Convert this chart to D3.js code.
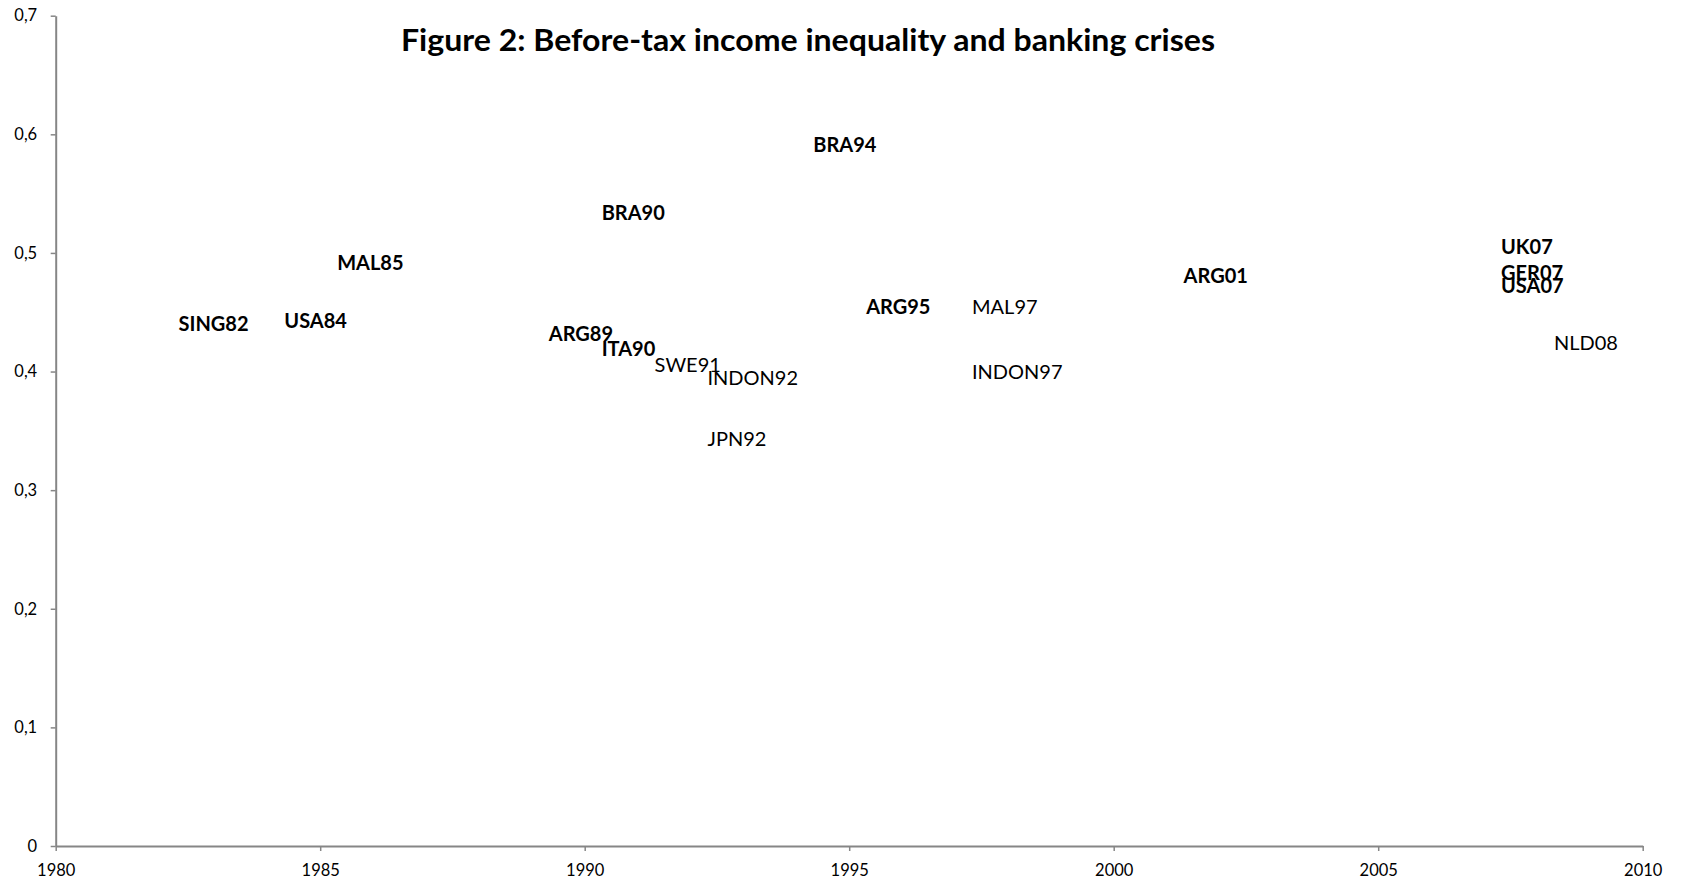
<!DOCTYPE html>
<html>
<head>
<meta charset="utf-8">
<script src="https://cdn.jsdelivr.net/npm/d3@7"></script>
<style>
    body { margin: 0; background: #fff; }
    svg { display: block; font-family: Lato, "Open Sans", sans-serif; }
</style>
</head>
<body>
<div id="chart"></div>
<script>
'use strict';

// crisis labels, year of the crisis, top income share before tax
const labels = ["SING82", "USA84", "MAL85", "ARG89", "ITA90", "BRA90", "SWE91", "INDON92", "JPN92",
    "BRA94", "ARG95", "MAL97", "INDON97", "ARG01", "UK07", "GER07", "USA07", "NLD08"];
const years = [1982, 1984, 1985, 1989, 1990, 1990, 1991, 1992, 1992,
    1994, 1995, 1997, 1997, 2001, 2007, 2007, 2007, 2008];
const values = [0.440, 0.4425, 0.492, 0.432, 0.419, 0.534, 0.406, 0.395, 0.343,
    0.5915, 0.455, 0.4545, 0.400, 0.481, 0.505, 0.483, 0.4725, 0.4245];
const boldLabels = ["SING82", "USA84", "MAL85", "ARG89", "ITA90", "BRA90", "BRA94", "ARG95",
    "ARG01", "UK07", "GER07", "USA07"];

const xTicks = [1980, 1985, 1990, 1995, 2000, 2005, 2010];
const yTicks = [0, 0.1, 0.2, 0.3, 0.4, 0.5, 0.6, 0.7];
const title = "Figure 2: Before-tax income inequality and banking crises";

const _width = 1684;
const _height = 883;
const _axisColor = "#868686";

const svg = d3.select("#chart").append("svg")
    .attr("width", _width)
    .attr("height", _height);

const x = d3.scaleLinear().domain([1980, 2010]).range([55.7, 1642.7]);
const y = d3.scaleLinear().domain([0, 0.7]).range([846, 15.7]);

// x axis
const xAxis = svg.append("g")
    .attr("transform", "translate(0," + y(0) + ")")
    .call(d3.axisBottom(x).tickValues(xTicks).tickFormat(d3.format("d")).tickSize(5).tickPadding(13).tickSizeOuter(0));

// y axis
const yAxis = svg.append("g")
    .attr("transform", "translate(" + x(1980) + ",0)")
    .call(d3.axisLeft(y).tickValues(yTicks).tickFormat(function (d) {
        return d === 0 ? "0" : d3.format(".1f")(d).replace(".", ",");
    }).tickSize(5).tickPadding(13.5).tickSizeOuter(0));

[xAxis, yAxis].forEach(function (g) {
    g.select(".domain").attr("stroke", _axisColor).attr("stroke-width", 2);
    g.selectAll(".tick line").attr("stroke", _axisColor).attr("stroke-width", 1.5);
    g.selectAll(".tick text")
        .attr("fill", "#000")
        .style("font-family", "Lato, 'Open Sans', sans-serif")
        .style("font-size", "16.5px");
});

// data labels (no markers, label placed right of the point)
svg.append("g").selectAll("text")
    .data(labels)
    .join("text")
    .attr("x", function (d, i) { return x(years[i]) + 17; })
    .attr("y", function (d, i) { return y(values[i]); })
    .attr("dy", "0.36em")
    .attr("fill", "#000")
    .style("font-size", "20px")
    .style("font-weight", function (d) { return boldLabels.indexOf(d) >= 0 ? "bold" : "normal"; })
    .text(function (d) { return d; });

// title
svg.append("text")
    .attr("x", 808)
    .attr("y", 50.5)
    .attr("text-anchor", "middle")
    .attr("fill", "#000")
    .attr("textLength", 814)
    .attr("lengthAdjust", "spacingAndGlyphs")
    .style("font-size", "31px")
    .style("font-weight", "bold")
    .text(title);
</script>
</body>
</html>
